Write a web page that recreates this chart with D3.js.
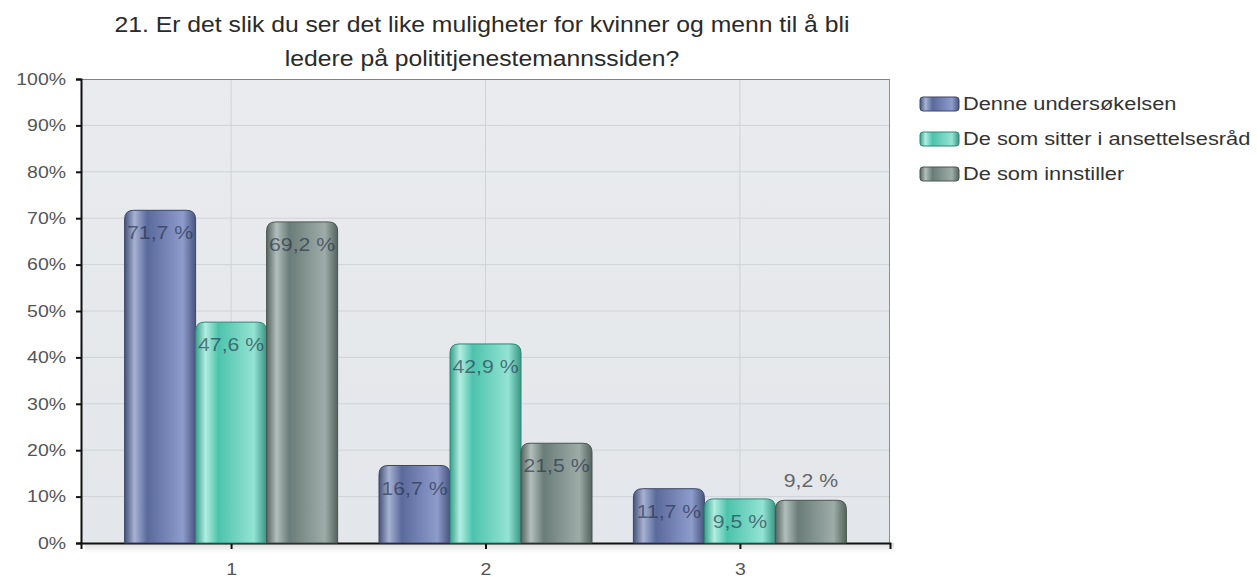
<!DOCTYPE html>
<html><head><meta charset="utf-8">
<script src="https://cdn.jsdelivr.net/npm/d3@7/dist/d3.min.js"></script>
<style>
body{margin:0;background:#fff}svg{display:block}
text{font-family:"Liberation Sans",Arial,sans-serif}
.sx-e{transform-box:fill-box;transform-origin:100% 50%;transform:scaleX(1.18)}
.sx-m{transform-box:fill-box;transform-origin:50% 50%;transform:scaleX(1.18)}
.sx-t{transform-box:fill-box;transform-origin:50% 50%;transform:scaleX(1.15)}
.sx-s{transform-box:fill-box;transform-origin:0% 50%;transform:scaleX(1.18)}
</style>
</head><body>
<svg id="c" width="1257" height="579"></svg>
<script>
const titleLines = ["21. Er det slik du ser det like muligheter for kvinner og menn til å bli", "ledere på polititjenestemannssiden?"];
const categories = ["1", "2", "3"];
const seriesNames = ["Denne undersøkelsen", "De som sitter i ansettelsesråd", "De som innstiller"];
const valuesDenne = [71.7, 16.7, 11.7];
const valuesAnsett = [47.6, 42.9, 9.5];
const valuesInnst = [69.2, 21.5, 9.2];
const yTicks = [0, 10, 20, 30, 40, 50, 60, 70, 80, 90, 100];

const series = [valuesDenne, valuesAnsett, valuesInnst];
const palettes = [
  ["#46547b", "#a7b1d2", "#5a6a9b", "#8e9ccc", "#48557f"],
  ["#36a08c", "#b3ede1", "#4dc3ac", "#94e3d3", "#389684"],
  ["#55655f", "#b2bebb", "#6b7d78", "#9eaca8", "#54635e"]
];
const strokes = ["#3a476a", "#2c8776", "#48554f"];

const svg = d3.select("#c");
const L = 81, R = 890, T = 79, B = 543;
const x = d3.scalePoint().domain(categories).range([L, R]).padding(0.59);
const y = d3.scaleLinear().domain([0, 100]).range([B, T]);
const barW = 71;
const inner = d3.scaleBand().domain(d3.range(3)).range([-barW * 1.5, barW * 1.5]).padding(0);

const defs = svg.append("defs");
palettes.forEach((p, i) => {
  const g = defs.append("linearGradient").attr("id", "g" + i).attr("x1", 0).attr("x2", 1).attr("y1", 0).attr("y2", 0);
  [0, 0.14, 0.32, 0.82, 1].forEach((o, k) => g.append("stop").attr("offset", o).attr("stop-color", p[k]));
});
const bg = defs.append("linearGradient").attr("id", "bg").attr("x1", 0).attr("x2", 0).attr("y1", 0).attr("y2", 1);
bg.append("stop").attr("offset", 0).attr("stop-color", "#e9ebee");
bg.append("stop").attr("offset", 1).attr("stop-color", "#e3e6ea");
const sh = defs.append("linearGradient").attr("id", "sh").attr("x1", 0).attr("x2", 0).attr("y1", 0).attr("y2", 1);
sh.append("stop").attr("offset", 0).attr("stop-color", "#dcdcdc");
sh.append("stop").attr("offset", 1).attr("stop-color", "#ffffff");

svg.append("rect").attr("x", L + 4).attr("y", B).attr("width", R - L).attr("height", 10).attr("fill", "url(#sh)");
svg.append("rect").attr("x", L).attr("y", T).attr("width", R - L).attr("height", B - T).attr("fill", "url(#bg)");
svg.append("g").selectAll("line").data(yTicks.slice(1, -1)).join("line")
  .attr("x1", L).attr("x2", R).attr("y1", d => y(d)).attr("y2", d => y(d))
  .attr("stroke", "#cfd2d7").attr("stroke-width", 1);
svg.append("g").selectAll("line").data(categories).join("line")
  .attr("x1", d => x(d)).attr("x2", d => x(d)).attr("y1", T).attr("y2", B)
  .attr("stroke", "#cfd2d7").attr("stroke-width", 1);
svg.append("line").attr("x1", L).attr("x2", R).attr("y1", T + 0.5).attr("y2", T + 0.5).attr("stroke", "#7f8287");
svg.append("line").attr("x1", R - 0.5).attr("x2", R - 0.5).attr("y1", T).attr("y2", B).attr("stroke", "#8a8d92");

const yAxis = svg.append("g").attr("transform", `translate(${L},0)`)
  .call(d3.axisLeft(y).tickValues(yTicks).tickFormat(d => d + "%").tickSize(5).tickPadding(10));
const xAxis = svg.append("g").attr("transform", `translate(0,${B})`)
  .call(d3.axisBottom(x).tickSize(6).tickPadding(14));
[yAxis, xAxis].forEach(a => {
  a.select(".domain").attr("stroke", "#111").attr("stroke-width", 2);
  a.selectAll(".tick line").attr("stroke", "#111").attr("stroke-width", 2);
  a.selectAll("text").attr("fill", "#555").attr("font-size", 16.5).attr("font-family", '"Liberation Sans",Arial,sans-serif');
});
yAxis.selectAll("text").attr("class", "sx-e");
xAxis.selectAll("text").attr("class", "sx-m");

function barPath(x0, y0, w, h, r) {
  r = Math.min(r, h, w / 2);
  return `M${x0},${y0 + h}V${y0 + r}Q${x0},${y0} ${x0 + r},${y0}H${x0 + w - r}Q${x0 + w},${y0} ${x0 + w},${y0 + r}V${y0 + h}Z`;
}
series.forEach((vals, si) => {
  const g = svg.append("g");
  vals.forEach((v, ci) => {
    const bx = x(categories[ci]) + inner(si);
    const by = y(v);
    g.append("path").attr("d", barPath(bx, by, barW, B - by, 9))
      .attr("fill", `url(#g${si})`).attr("stroke", strokes[si]).attr("stroke-width", 1);
    const inside = !(si === 2 && ci === 2);
    g.append("text").attr("class", "sx-m").attr("x", bx + barW / 2).attr("y", inside ? by + 29 : by - 13)
      .attr("text-anchor", "middle").attr("font-size", 18)
      .attr("fill", inside ? "#1c2a44" : "#666").attr("fill-opacity", inside ? 0.62 : 1)
      .text(String(v).replace(".", ",") + " %");
  });
});

svg.append("g").selectAll("text").data(titleLines).join("text").attr("class", "sx-t")
  .attr("x", 482).attr("y", (d, i) => 32 + i * 34).attr("text-anchor", "middle")
  .attr("font-size", 21.5).attr("fill", "#2a2a2a").text(d => d);

const lg = svg.append("g").attr("transform", "translate(920,0)");
seriesNames.forEach((n, i) => {
  const yy = 97 + i * 35;
  lg.append("rect").attr("x", 0).attr("y", yy).attr("width", 39).attr("height", 14).attr("rx", 3)
    .attr("fill", `url(#g${i})`).attr("stroke", strokes[i]);
  lg.append("text").attr("class", "sx-s").attr("x", 43).attr("y", yy + 13).attr("font-size", 18.5).attr("fill", "#333").text(n);
});
</script>
</body></html>
